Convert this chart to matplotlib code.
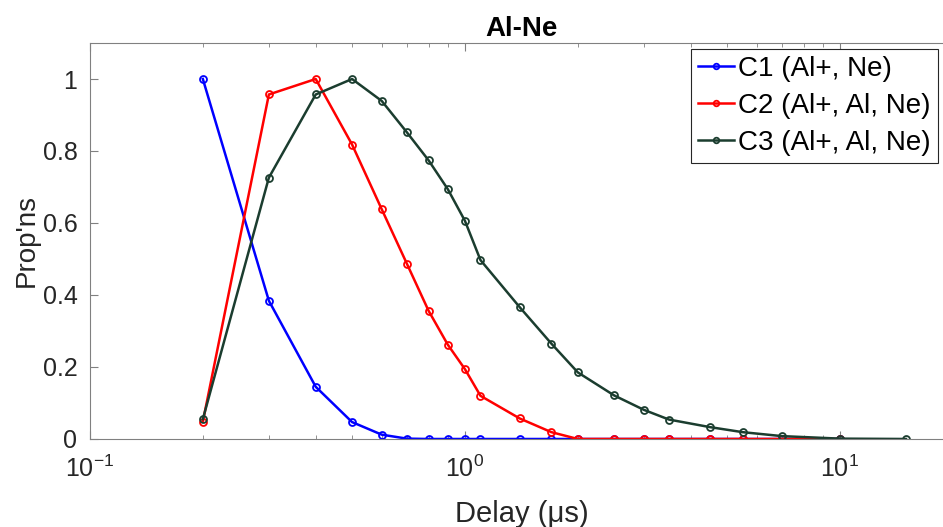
import numpy as np
import matplotlib.pyplot as plt
from matplotlib.ticker import LogLocator, FixedLocator

plt.rcParams['font.family'] = ['Liberation Sans', 'DejaVu Sans']

# ---- datos ----
delay = [0.2, 0.3, 0.4, 0.5, 0.6, 0.7, 0.8, 0.9, 1.0, 1.1, 1.4, 1.7,
         2.0, 2.5, 3.0, 3.5, 4.5, 5.5, 7.0, 10.0]
delay_c3 = delay + [15.0]

c1 = [1.0, 0.384, 0.145, 0.047, 0.012, 0.001, 0.0, 0.0, 0.0, 0.0, 0.0, 0.0,
      0.0, 0.0, 0.0, 0.0, 0.0, 0.0, 0.0, 0.0]
c2 = [0.048, 0.957, 1.0, 0.818, 0.638, 0.487, 0.356, 0.262, 0.194, 0.120,
      0.057, 0.019, 0.0, 0.0, 0.0, 0.0, 0.0, 0.0, 0.0, 0.0]
c3 = [0.055, 0.726, 0.957, 1.0, 0.939, 0.852, 0.774, 0.694, 0.606, 0.497,
      0.366, 0.265, 0.185, 0.121, 0.081, 0.054, 0.033, 0.019, 0.008, 0.001, 0.0]

labels = ['C1 (Al+, Ne)', 'C2 (Al+, Al, Ne)', 'C3 (Al+, Al, Ne)']
colores = ['#0000ff', '#ff0000', '#1b3d2f']

fig = plt.figure(figsize=(9.43, 5.27), dpi=100)
ax = fig.add_axes([0.0954, 0.167, 0.915, 0.7514])

series = [(delay, c1), (delay, c2), (delay_c3, c3)]
for (x, y), lab, col in zip(series, labels, colores):
    ax.plot(x, y, color=col, lw=1.8, marker='o', ms=5, mfc='none',
            mew=1.3, label=lab)

ax.set_xscale('log')
ax.set_xlim(0.1, 20)
ax.set_ylim(0, 1.1)
ax.yaxis.set_major_locator(FixedLocator([0, 0.2, 0.4, 0.6, 0.8, 1.0]))
ax.set_yticklabels(['0', '0.2', '0.4', '0.6', '0.8', '1'])
ax.xaxis.set_major_locator(LogLocator(base=10))
ax.xaxis.set_minor_locator(LogLocator(base=10, subs=np.arange(2, 10)))

ax.tick_params(which='both', direction='in', top=True, right=True,
               colors='#808080', labelcolor='#262626', labelsize=18)
ax.tick_params(which='major', length=6)
ax.tick_params(which='minor', length=3)
ax.tick_params(axis='x', pad=12)
ax.tick_params(axis='y', pad=9)
for s in ax.spines.values():
    s.set_color('#808080')

ax.set_xlabel('Delay (\u03bcs)', fontsize=21, color='#262626', labelpad=13)
ax.set_ylabel("Prop'ns", fontsize=20, color='#262626', labelpad=2)
ax.set_title('Al-Ne', fontsize=20, fontweight='bold', pad=5)

leg = ax.legend(loc='upper right', bbox_to_anchor=(0.9826, 0.985), fontsize=20,
                handlelength=1.3, handletextpad=0.15, borderpad=0.25,
                labelspacing=0.4, markerscale=0.8, fancybox=False,
                framealpha=1, borderaxespad=0)
leg.get_frame().set_edgecolor('#262626')
leg.get_frame().set_linewidth(0.8)

plt.savefig('out.png', dpi=100)
plt.close()
